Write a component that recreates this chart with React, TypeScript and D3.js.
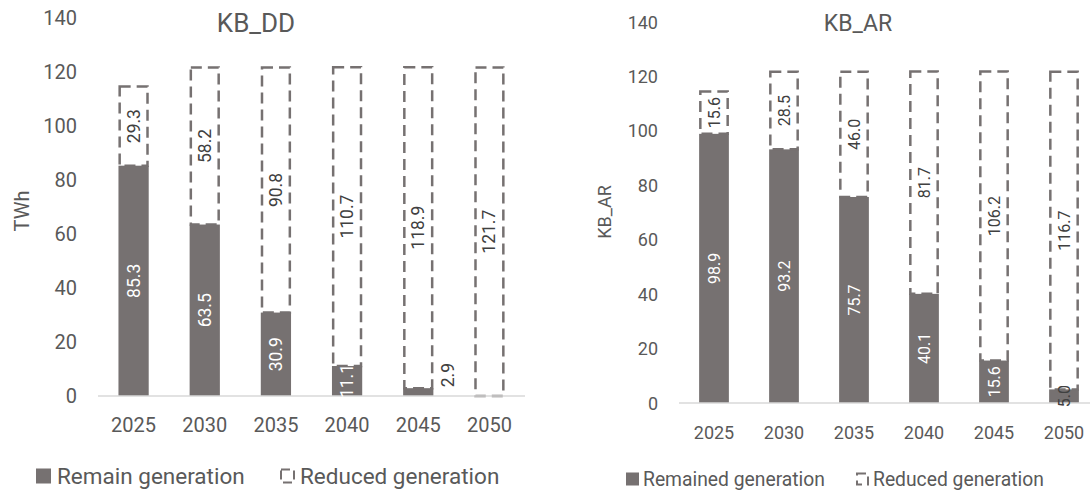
import React from 'react';
import * as d3 from 'd3';

const years = ['2025', '2030', '2035', '2040', '2045', '2050'];
const yTicks = [0, 20, 40, 60, 80, 100, 120, 140];

const ddRemain = [85.3, 63.5, 30.9, 11.1, 2.9, 0];
const ddReduced = [29.3, 58.2, 90.8, 110.7, 118.9, 121.7];

const arRemain = [98.9, 93.2, 75.7, 40.1, 15.6, 5.0];
const arReduced = [15.6, 28.5, 46.0, 81.7, 106.2, 116.7];

const GRAY = '#767171';
const TEXT = '#595959';
const FONT = 'Roboto, "Noto Sans", sans-serif';

type PanelProps = {
  title: string;
  yLabel: string;
  remain: number[];
  reduced: number[];
  remainName: string;
  x0: number;
  x1: number;
  yTop: number;
  yBase: number;
  tickSize: number;
  valueSize: number;
  titleX: number;
  titleSize: number;
  yLabelX: number;
  yLabelY: number;
  yLabelSize: number;
  legendY: number;
  legendSize: number;
  legend: { sq: number; sqSize: number; text1: number; icon: number; text2: number };
};

const Panel = (p: PanelProps) => {
  const x = d3.scaleBand().domain(years).range([p.x0, p.x1]).paddingInner(0.575).paddingOuter(0.2875);
  const y = d3.scaleLinear().domain([0, 140]).range([p.yBase, p.yTop]);
  const bw = x.bandwidth();
  const lg = p.legend;

  return (
    <g fontFamily={FONT}>
      <text x={p.titleX} y={23} fontSize={p.titleSize} fill={TEXT} textAnchor="middle" dominantBaseline="central">
        {p.title}
      </text>
      <text
        transform={`translate(${p.yLabelX},${p.yLabelY}) rotate(-90)`}
        fontSize={p.yLabelSize}
        fill={TEXT}
        textAnchor="middle"
        dominantBaseline="central"
      >
        {p.yLabel}
      </text>
      {yTicks.map((t) => (
        <text key={t} x={p.x0 - 21} y={y(t)} fontSize={p.tickSize} fill={TEXT} textAnchor="end" dominantBaseline="central">
          {t}
        </text>
      ))}
      {years.map((yr, i) => {
        const bx = x(yr) as number;
        const r = p.remain[i];
        const d = p.reduced[i];
        return (
          <g key={yr}>
            <rect x={bx} y={y(r)} width={bw} height={y(0) - y(r)} fill={GRAY} />
            <rect
              x={bx + 1.2}
              y={y(r + d)}
              width={bw - 2.4}
              height={y(r) - y(r + d)}
              fill="none"
              stroke={GRAY}
              strokeWidth={2.5}
              strokeDasharray="11,6"
            />
          </g>
        );
      })}
      <line x1={p.x0} x2={p.x1} y1={y(0)} y2={y(0)} stroke="#d9d9d9" strokeWidth={1.5} />
      {years.map((yr, i) => {
        const cx = (x(yr) as number) + bw / 2;
        const r = p.remain[i];
        const d = p.reduced[i];
        const out = r > 0 && r < 4;
        return (
          <g key={'l' + yr} fontSize={p.valueSize}>
            {r > 0 && (
              <text
                transform={
                  out
                    ? `translate(${cx + bw / 2 + 15},${y(r) - 13}) rotate(-90)`
                    : `translate(${cx},${y(r / 2)}) rotate(-90)`
                }
                fill={out ? '#404040' : r < 10 ? '#404040' : '#ffffff'}
                textAnchor="middle"
                dominantBaseline="central"
              >
                {r.toFixed(1)}
              </text>
            )}
            <text
              transform={`translate(${cx},${y(r + d / 2)}) rotate(-90)`}
              fill="#404040"
              textAnchor="middle"
              dominantBaseline="central"
            >
              {d.toFixed(1)}
            </text>
            <text x={cx} y={y(0) + 29} fontSize={p.tickSize} fill={TEXT} textAnchor="middle" dominantBaseline="central">
              {yr}
            </text>
          </g>
        );
      })}
      <rect x={lg.sq} y={p.legendY - lg.sqSize / 2} width={lg.sqSize} height={lg.sqSize} fill={GRAY} />
      <text x={lg.text1} y={p.legendY} fontSize={p.legendSize} fill={TEXT} dominantBaseline="central">
        {p.remainName}
      </text>
      <rect
        x={lg.icon + 1}
        y={p.legendY - lg.sqSize / 2 + 1}
        width={lg.sqSize - 2}
        height={lg.sqSize - 2}
        fill="none"
        stroke={GRAY}
        strokeWidth={2}
        strokeDasharray="9,5"
      />
      <text x={lg.text2} y={p.legendY} fontSize={p.legendSize} fill={TEXT} dominantBaseline="central">
        Reduced generation
      </text>
    </g>
  );
};

export default function App() {
  return (
    <svg
      width={1090}
      height={491}
      style={{ position: 'absolute', left: 0, top: 0, background: '#ffffff' }}
    >
      <Panel
        title="KB_DD"
        yLabel="TWh"
        remain={ddRemain}
        reduced={ddReduced}
        remainName="Remain generation"
        x0={98}
        x1={525}
        yTop={18}
        yBase={396}
        tickSize={20}
        valueSize={17.5}
        titleX={256}
        titleSize={26}
        yLabelX={22}
        yLabelY={211}
        yLabelSize={20}
        legendY={476}
        legendSize={22.5}
        legend={{ sq: 36, sqSize: 15, text1: 57, icon: 280, text2: 300 }}
      />
      <Panel
        title="KB_AR"
        yLabel="KB_AR"
        remain={arRemain}
        reduced={arReduced}
        remainName="Remained generation"
        x0={679}
        x1={1099}
        yTop={22}
        yBase={403}
        tickSize={18}
        valueSize={16}
        titleX={858}
        titleSize={23}
        yLabelX={604}
        yLabelY={212}
        yLabelSize={18}
        legendY={479}
        legendSize={19.3}
        legend={{ sq: 626, sqSize: 13, text1: 643, icon: 856, text2: 873 }}
      />
    </svg>
  );
}
